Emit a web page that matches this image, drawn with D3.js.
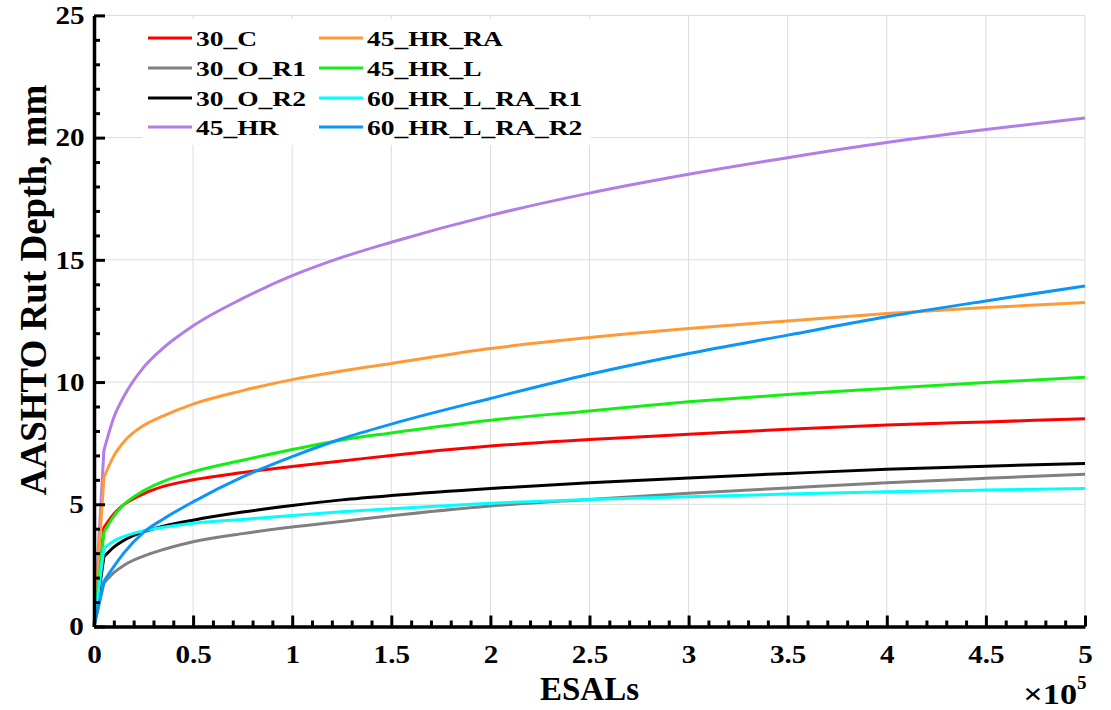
<!DOCTYPE html>
<html>
<head>
<meta charset="utf-8">
<script src="https://cdn.jsdelivr.net/npm/d3@7"></script>
<style>
  html, body { margin: 0; padding: 0; background: #fff; }
  svg { display: block; }
  text { font-family: "Liberation Serif", "Times New Roman", serif; font-weight: bold; fill: #000; }
  .tick-label { font-size: 26px; transform-box: fill-box; transform-origin: center; transform: scaleX(1.12); }
  .legend-label { font-size: 22px; transform-box: fill-box; transform-origin: left center; transform: scaleX(1.25); }
  .exponent { transform-box: fill-box; transform-origin: right center; transform: scaleX(1.18); }
</style>
</head>
<body>
<svg id="chart" width="1111" height="710"></svg>
<script>
// Accumulated ESALs at which rut depth was computed
const esals = [0, 5000, 10000, 15000, 25000, 35000, 50000, 75000, 100000, 125000,
               150000, 200000, 250000, 300000, 350000, 400000, 450000, 500000];

// AASHTO rut depth (mm) per mixture
const rut30C      = [0, 4.05, 4.6, 4.98, 5.43, 5.73, 6.0, 6.3, 6.55, 6.77, 7.0, 7.38, 7.65, 7.86, 8.07, 8.24, 8.37, 8.5];
const rut30OR1    = [0, 1.77, 2.2, 2.5, 2.88, 3.15, 3.47, 3.8, 4.07, 4.3, 4.53, 4.93, 5.2, 5.45, 5.67, 5.88, 6.06, 6.23];
const rut30OR2    = [0, 2.85, 3.25, 3.52, 3.88, 4.1, 4.35, 4.68, 4.95, 5.18, 5.36, 5.65, 5.88, 6.08, 6.26, 6.43, 6.56, 6.67];
const rut45HR     = [0, 7.2, 8.55, 9.4, 10.6, 11.4, 12.3, 13.42, 14.35, 15.1, 15.72, 16.82, 17.73, 18.5, 19.18, 19.8, 20.33, 20.8];
const rut45HRRA   = [0, 6.1, 6.98, 7.55, 8.22, 8.62, 9.1, 9.65, 10.1, 10.45, 10.76, 11.37, 11.82, 12.19, 12.5, 12.8, 13.05, 13.25];
const rut45HRL    = [0, 3.85, 4.52, 4.98, 5.55, 5.94, 6.33, 6.8, 7.24, 7.63, 7.92, 8.44, 8.82, 9.19, 9.49, 9.74, 9.98, 10.2];
const rut60HRLRA1 = [0, 3.2, 3.5, 3.68, 3.92, 4.06, 4.22, 4.38, 4.54, 4.69, 4.82, 5.04, 5.2, 5.31, 5.42, 5.51, 5.58, 5.65];
const rut60HRLRA2 = [0, 1.85, 2.45, 3.0, 3.85, 4.4, 5.1, 6.12, 6.95, 7.68, 8.28, 9.33, 10.32, 11.17, 11.92, 12.67, 13.32, 13.93];

const seriesNames  = ["30_C", "30_O_R1", "30_O_R2", "45_HR", "45_HR_RA", "45_HR_L", "60_HR_L_RA_R1", "60_HR_L_RA_R2"];
const seriesValues = [rut30C, rut30OR1, rut30OR2, rut45HR, rut45HRRA, rut45HRL, rut60HRLRA1, rut60HRLRA2];
const seriesColors = ["#ff0000", "#808080", "#000000", "#b07ee6", "#ff9a36", "#14ee14", "#00ffff", "#0a96f8"];

const xMajorTicks = [0, 50000, 100000, 150000, 200000, 250000, 300000, 350000, 400000, 450000, 500000];
const xTickLabels = ["0", "0.5", "1", "1.5", "2", "2.5", "3", "3.5", "4", "4.5", "5"];
const yMajorTicks = [0, 5, 10, 15, 20, 25];

const svg = d3.select("#chart");
const plotLeft = 94, plotRight = 1085, plotTop = 15.4, plotBottom = 626.5;

const x = d3.scaleLinear().domain([0, 500000]).range([plotLeft, plotRight]);
const y = d3.scaleLinear().domain([0, 25]).range([plotBottom, plotTop]);

svg.append("rect").attr("width", 1111).attr("height", 710).attr("fill", "#fff");

// grid lines at major ticks
const grid = svg.append("g").attr("stroke", "#dcdcdc").attr("stroke-width", 1);
grid.selectAll("line.gx").data(xMajorTicks.slice(1)).join("line").attr("class", "gx")
  .attr("x1", d => x(d)).attr("x2", d => x(d)).attr("y1", plotTop).attr("y2", plotBottom);
grid.selectAll("line.gy").data(yMajorTicks.slice(1)).join("line").attr("class", "gy")
  .attr("x1", plotLeft).attr("x2", plotRight).attr("y1", d => y(d)).attr("y2", d => y(d));

// curves: straight rise to the first computed point, smooth afterwards
const smooth = d3.line().x(d => x(d[0])).y(d => y(d[1])).curve(d3.curveMonotoneX);
const curves = svg.append("g").attr("fill", "none").attr("stroke-width", 3).attr("stroke-linejoin", "round");
seriesValues.forEach((vals, i) => {
  const pts = esals.map((e, j) => [e, vals[j]]);
  const d = "M" + x(pts[0][0]) + "," + y(pts[0][1]) + smooth(pts.slice(1)).replace(/^M/, "L");
  curves.append("path").attr("d", d).attr("stroke", seriesColors[i]);
});

// axes with inward ticks
const xMinor = d3.range(0, 500001, 10000).filter(v => v % 50000 !== 0);
const yMinor = d3.range(0, 26, 1).filter(v => v % 5 !== 0);

const gx = svg.append("g").attr("transform", `translate(0,${plotBottom})`);
gx.call(d3.axisBottom(x).tickValues(xMinor).tickSize(-6).tickSizeOuter(0).tickFormat(""));
gx.call(g => g.select(".domain").remove());
const gx2 = svg.append("g").attr("transform", `translate(0,${plotBottom})`)
  .call(d3.axisBottom(x).tickValues(xMajorTicks).tickSize(-11).tickSizeOuter(0)
    .tickPadding(18).tickFormat((d, i) => xTickLabels[i]));

const gy = svg.append("g").attr("transform", `translate(${plotLeft},0)`);
gy.call(d3.axisLeft(y).tickValues(yMinor).tickSize(-6).tickSizeOuter(0).tickFormat(""));
gy.call(g => g.select(".domain").remove());
const gy2 = svg.append("g").attr("transform", `translate(${plotLeft},0)`)
  .call(d3.axisLeft(y).tickValues(yMajorTicks).tickSize(-11).tickSizeOuter(0).tickPadding(11));

svg.selectAll(".tick line").attr("stroke", "#000").attr("stroke-width", 3);
[gx2, gy2].forEach(g => g.select(".domain").attr("stroke", "#000").attr("stroke-width", 3.5));
[gx2, gy2].forEach(g => g.attr("font-family", null).attr("font-size", null));
svg.selectAll(".tick text").attr("class", "tick-label");

// axis titles
svg.append("text").attr("x", (plotLeft + plotRight) / 2).attr("y", 700)
  .attr("text-anchor", "middle").attr("font-size", 33).text("ESALs");
svg.append("text").attr("transform", "translate(46,290) rotate(-90)")
  .attr("text-anchor", "middle").attr("font-size", 37).text("AASHTO Rut Depth, mm");

// exponent marker for the x axis
svg.append("text").attr("class", "exponent").attr("x", 1077).attr("y", 704)
  .attr("text-anchor", "end").attr("font-size", 29).text("\u00d710");
svg.append("text").attr("x", 1077).attr("y", 689).attr("font-size", 19).text("5");

// legend
const legend = svg.append("g");
legend.append("rect").attr("x", 142).attr("y", 19).attr("width", 449).attr("height", 126).attr("fill", "#fff");
const colX = [148, 319];
const rowY = [38, 68, 98, 127];
seriesNames.forEach((name, i) => {
  const cx = colX[Math.floor(i / 4)], cy = rowY[i % 4];
  legend.append("line").attr("x1", cx).attr("x2", cx + 44).attr("y1", cy).attr("y2", cy)
    .attr("stroke", seriesColors[i]).attr("stroke-width", 3);
  legend.append("text").attr("class", "legend-label").attr("x", cx + 48).attr("y", cy)
    .attr("dy", "0.35em").text(name);
});
</script>
</body>
</html>
